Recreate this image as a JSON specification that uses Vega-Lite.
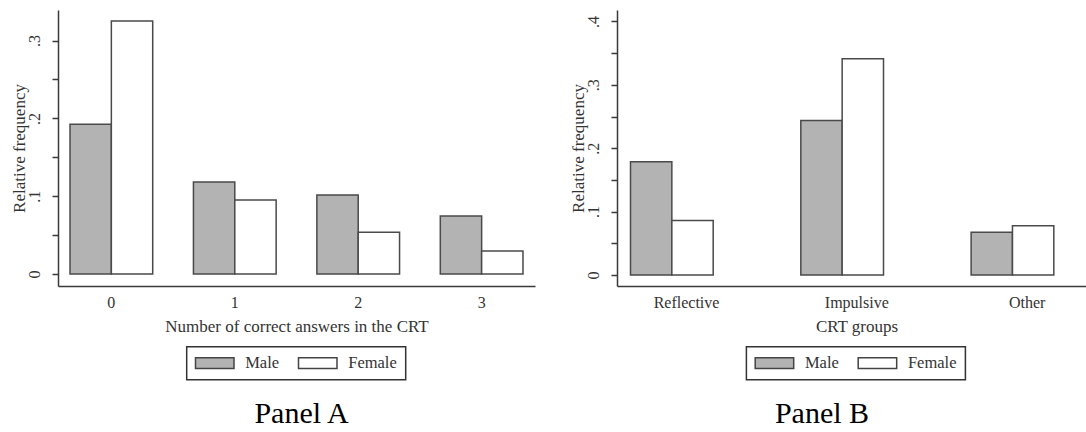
{
  "$schema": "https://vega.github.io/schema/vega-lite/v6.json",
  "padding": {"left": 10, "top": 10, "right": 0, "bottom": 0},
  "background": "white",
  "config": {
    "font": "Liberation Serif",
    "view": {"stroke": null},
    "axis": {
      "domainColor": "#3a3a3a", "domainWidth": 1.5,
      "tickColor": "#3a3a3a", "tickWidth": 1.5,
      "labelColor": "#333333", "titleColor": "#333333",
      "labelFont": "Liberation Serif", "titleFont": "Liberation Serif",
      "titleFontWeight": "normal", "grid": false,
      "labelFontSize": 16, "titleFontSize": 17
    },
    "legend": {
      "orient": "none", "direction": "horizontal",
      "strokeColor": "#333333", "strokeWidth": 1.5, "padding": 8,
      "symbolType": "M-1,-0.7L4,-0.7L4,0.7L-1,0.7Z",
      "symbolSize": 237, "symbolStrokeColor": "#444444", "symbolStrokeWidth": 1.5,
      "symbolOpacity": 1,
      "labelFont": "Liberation Serif", "labelFontSize": 16.5, "labelColor": "#333333",
      "labelOffset": 33.5, "columnPadding": 15
    },
    "bar": {"stroke": "#4a4a4a", "strokeWidth": 1.5, "opacity": 1},
    "title": {"font": "Liberation Serif", "fontSize": 30, "fontWeight": "normal", "color": "#000000"}
  },
  "datasets": {
    "a": [
      {"answers": "0", "sex": "Male", "freq": 0.1924},
      {"answers": "0", "sex": "Female", "freq": 0.3253},
      {"answers": "1", "sex": "Male", "freq": 0.1183},
      {"answers": "1", "sex": "Female", "freq": 0.0951},
      {"answers": "2", "sex": "Male", "freq": 0.1016},
      {"answers": "2", "sex": "Female", "freq": 0.0536},
      {"answers": "3", "sex": "Male", "freq": 0.0746},
      {"answers": "3", "sex": "Female", "freq": 0.0296}
    ],
    "b": [
      {"group": "Reflective", "sex": "Male", "freq": 0.1788},
      {"group": "Reflective", "sex": "Female", "freq": 0.086},
      {"group": "Impulsive", "sex": "Male", "freq": 0.2438},
      {"group": "Impulsive", "sex": "Female", "freq": 0.3413},
      {"group": "Other", "sex": "Male", "freq": 0.0676},
      {"group": "Other", "sex": "Female", "freq": 0.0776}
    ]
  },
  "spacing": 34,
  "hconcat": [
    {
      "width": 477, "height": 276,
      "data": {"name": "a"},
      "title": {"text": "Panel A", "orient": "bottom", "offset": 19, "dx": 5},
      "mark": {"type": "bar"},
      "encoding": {
        "x": {
          "field": "answers", "type": "nominal", "sort": ["0", "1", "2", "3"],
          "scale": {"paddingInner": 0.33, "paddingOuter": 0.0973},
          "axis": {"title": "Number of correct answers in the CRT", "labelAngle": 0, "ticks": false, "tickSize": 0, "labelPadding": 8, "titlePadding": 8}
        },
        "xOffset": {"field": "sex", "type": "nominal", "sort": ["Male", "Female"], "scale": {"paddingInner": 0, "paddingOuter": 0}},
        "y": {
          "field": "freq", "type": "quantitative",
          "scale": {"domain": [-0.01542, 0.3393], "nice": false, "zero": false},
          "axis": {
            "title": "Relative frequency",
            "values": [0, 0.05, 0.1, 0.15, 0.2, 0.25, 0.3],
            "labelExpr": "round(datum.value*100) % 10 == 0 ? (datum.value == 0 ? '0' : replace(format(datum.value, '.1f'), '0.', '.')) : ''",
            "labelAngle": -90, "labelAlign": "center", "labelBaseline": "alphabetic",
            "labelOverlap": false, "tickSize": 6, "labelPadding": 13,
            "titleAngle": -90, "titleBaseline": "alphabetic", "titleX": -34
          }
        },
        "fill": {
          "field": "sex", "type": "nominal",
          "scale": {"domain": ["Male", "Female"], "range": ["#b3b3b3", "#ffffff"]},
          "legend": {"title": null, "legendX": 128.7, "legendY": 336.7}
        }
      }
    },
    {
      "width": 470, "height": 276,
      "data": {"name": "b"},
      "title": {"text": "Panel B", "orient": "bottom", "offset": 19, "dx": -30},
      "mark": {"type": "bar"},
      "encoding": {
        "x": {
          "field": "group", "type": "nominal", "sort": ["Reflective", "Impulsive", "Other"],
          "scale": {"paddingInner": 0.342, "paddingOuter": 0.0508, "align": 0.78},
          "axis": {"title": "CRT groups", "labelAngle": 0, "ticks": false, "tickSize": 0, "labelPadding": 8, "titlePadding": 8, "titleX": 239.5}
        },
        "xOffset": {"field": "sex", "type": "nominal", "sort": ["Male", "Female"], "scale": {"paddingInner": 0, "paddingOuter": 0}},
        "y": {
          "field": "freq", "type": "quantitative",
          "scale": {"domain": [-0.01735, 0.418], "nice": false, "zero": false},
          "axis": {
            "title": "Relative frequency",
            "values": [0, 0.05, 0.1, 0.15, 0.2, 0.25, 0.3, 0.35, 0.4],
            "labelExpr": "round(datum.value*100) % 10 == 0 ? (datum.value == 0 ? '0' : replace(format(datum.value, '.1f'), '0.', '.')) : ''",
            "labelAngle": -90, "labelAlign": "center", "labelBaseline": "alphabetic",
            "labelOverlap": false, "tickSize": 6, "labelPadding": 13,
            "titleAngle": -90, "titleBaseline": "alphabetic", "titleX": -34
          }
        },
        "fill": {
          "field": "sex", "type": "nominal",
          "scale": {"domain": ["Male", "Female"], "range": ["#b3b3b3", "#ffffff"]},
          "legend": {"title": null, "legendX": 129.4, "legendY": 336.7}
        }
      }
    }
  ],
  "resolve": {"scale": {"fill": "independent"}, "legend": {"fill": "independent"}}
}
